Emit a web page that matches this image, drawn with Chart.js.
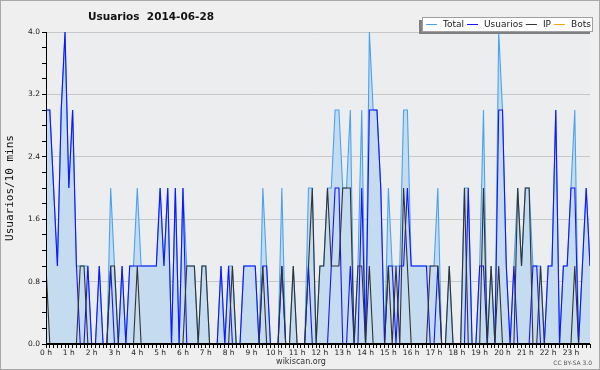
<!DOCTYPE html>
<html lang="es">
<head>
<meta charset="utf-8">
<title>Usuarios 2014-06-28</title>
<script src="https://cdn.jsdelivr.net/npm/chart.js@4.4.1/dist/chart.umd.min.js"></script>
<style>
    body { margin: 0; background: #efefef; }
    #chart { display: block; }
</style>
</head>
<body>
<canvas id="chart" width="600" height="370"></canvas>
<script>
// one value every 10 minutes, from 0 h to 23 h 50
const hours = ['0 h', '1 h', '2 h', '3 h', '4 h', '5 h', '6 h', '7 h', '8 h', '9 h', '10 h', '11 h',
    '12 h', '13 h', '14 h', '15 h', '16 h', '17 h', '18 h', '19 h', '20 h', '21 h', '22 h', '23 h'];

const total = [
    3, 3, 2, 1, 3, 4, 2, 3, 1, 1,
    1, 1, 0, 0, 1, 0, 0, 2, 1, 0,
    1, 0, 1, 1, 2, 1, 1, 1, 1, 1,
    2, 1, 2, 0, 2, 0, 2, 1, 1, 1,
    0, 1, 1, 0, 0, 0, 1, 0, 1, 1,
    0, 0, 1, 1, 1, 1, 0, 2, 1, 0,
    0, 0, 2, 0, 0, 1, 0, 0, 0, 2,
    2, 0, 1, 1, 2, 2, 3, 3, 2, 2,
    3, 0, 1, 3, 0, 4, 3, 3, 2, 0,
    2, 1, 1, 1, 3, 3, 1, 1, 1, 1,
    1, 1, 1, 2, 0, 0, 1, 0, 0, 0,
    2, 2, 0, 0, 1, 3, 0, 1, 0, 4,
    3, 1, 0, 1, 2, 1, 2, 2, 1, 1,
    1, 0, 1, 1, 3, 0, 1, 1, 2, 3,
    0, 1, 2, 1
];

const usuarios = [
    3, 3, 2, 1, 3, 4, 2, 3, 1, 0,
    0, 1, 0, 0, 1, 0, 0, 1, 0, 0,
    1, 0, 1, 1, 1, 1, 1, 1, 1, 1,
    2, 1, 2, 0, 2, 0, 2, 0, 0, 0,
    0, 0, 0, 0, 0, 0, 1, 0, 1, 0,
    0, 0, 1, 1, 1, 1, 0, 1, 1, 0,
    0, 0, 1, 0, 0, 0, 0, 0, 0, 1,
    0, 0, 0, 0, 0, 1, 2, 2, 0, 0,
    1, 0, 0, 2, 0, 3, 3, 3, 2, 0,
    1, 1, 0, 1, 1, 2, 1, 1, 1, 1,
    1, 0, 0, 1, 0, 0, 0, 0, 0, 0,
    0, 2, 0, 0, 1, 1, 0, 0, 0, 3,
    3, 1, 0, 1, 0, 0, 0, 0, 1, 1,
    0, 0, 1, 1, 3, 0, 1, 1, 2, 2,
    0, 1, 2, 1
];

const ip = [
    1, 0, 0, 0, 0, 0, 0, 0, 0, 1,
    1, 0, 0, 0, 0, 0, 0, 1, 1, 0,
    0, 0, 0, 0, 1, 0, 0, 0, 0, 0,
    0, 0, 0, 0, 0, 0, 0, 1, 1, 1,
    0, 1, 1, 0, 0, 0, 0, 0, 0, 1,
    0, 0, 0, 0, 0, 0, 0, 1, 0, 0,
    0, 0, 1, 0, 0, 1, 0, 0, 0, 1,
    2, 0, 1, 1, 2, 1, 1, 1, 2, 2,
    2, 0, 1, 1, 0, 1, 0, 0, 0, 0,
    1, 0, 1, 0, 2, 1, 0, 0, 0, 0,
    0, 1, 1, 1, 0, 0, 1, 0, 0, 0,
    2, 0, 0, 0, 0, 2, 0, 1, 0, 1,
    0, 0, 0, 0, 2, 1, 2, 2, 0, 0,
    1, 0, 0, 0, 0, 0, 0, 0, 0, 1,
    0, 0, 0, 0
];

const bots = [
    0, 0, 0, 0, 0, 0, 0, 0, 0, 0,
    0, 0, 0, 0, 0, 0, 0, 0, 0, 0,
    0, 0, 0, 0, 0, 0, 0, 0, 0, 0,
    0, 0, 0, 0, 0, 0, 0, 0, 0, 0,
    0, 0, 0, 0, 0, 0, 0, 0, 0, 0,
    0, 0, 0, 0, 0, 0, 0, 0, 0, 0,
    0, 0, 0, 0, 0, 0, 0, 0, 0, 0,
    0, 0, 0, 0, 0, 0, 0, 0, 0, 0,
    0, 0, 0, 0, 0, 0, 0, 0, 0, 0,
    0, 0, 0, 0, 0, 0, 0, 0, 0, 0,
    0, 0, 0, 0, 0, 0, 0, 0, 0, 0,
    0, 0, 0, 0, 0, 0, 0, 0, 0, 0,
    0, 0, 0, 0, 0, 0, 0, 0, 0, 0,
    0, 0, 0, 0, 0, 0, 0, 0, 0, 0,
    0, 0, 0, 0
];

const seriesNames = ['Total', 'Usuarios', 'IP', 'Bots'];
const seriesColors = ['#4aa3f0', '#1414ff', '#333333', '#ffa500'];
const fillColor = '#c5dbef';

function toPoints(values) {
    return values.map((v, i) => ({ x: i, y: v }));
}

function isMajor(v) {
    return Math.round(v * 5) % 4 === 0;
}

// title, legend box, footer and frame, all painted on the canvas
const decorations = {
    id: 'decorations',
    beforeDraw(chart) {
        const { ctx, chartArea: a } = chart;
        ctx.save();
        ctx.fillStyle = '#efefef';
        ctx.fillRect(0, 0, chart.width, chart.height);
        ctx.fillStyle = '#ecedef';
        ctx.fillRect(a.left, a.top, a.right - a.left, a.bottom - a.top);
        ctx.restore();
    },
    afterDatasetsDraw(chart) {
        const { ctx, chartArea: a } = chart;
        ctx.save();
        ctx.strokeStyle = '#000';
        ctx.lineWidth = 2;
        ctx.beginPath();
        ctx.moveTo(a.left, a.bottom);
        ctx.lineTo(a.right, a.bottom);
        ctx.stroke();
        ctx.lineWidth = 1;
        ctx.beginPath();
        ctx.moveTo(a.left + 0.5, a.top);
        ctx.lineTo(a.left + 0.5, a.bottom);
        ctx.stroke();
        ctx.restore();
    },
    afterDraw(chart) {
        const ctx = chart.ctx;
        ctx.save();

        ctx.strokeStyle = '#a8a8a8';
        ctx.lineWidth = 1;
        ctx.strokeRect(0.5, 0.5, chart.width - 1, chart.height - 1);

        ctx.fillStyle = '#111';
        ctx.font = 'bold 10.5px "DejaVu Sans"';
        ctx.textAlign = 'center';
        ctx.textBaseline = 'middle';
        ctx.fillText('Usuarios  2014-06-28', 151, 17);

        // legend with its shadow
        ctx.fillStyle = '#808080';
        ctx.fillRect(419, 20, 171, 14);
        ctx.fillStyle = '#fff';
        ctx.fillRect(422, 17, 171, 15);
        ctx.strokeStyle = '#a0a0a0';
        ctx.strokeRect(422.5, 17.5, 170, 14);

        ctx.font = '9px "DejaVu Sans"';
        ctx.textAlign = 'left';
        let x = 426;
        seriesNames.forEach((name, i) => {
            ctx.strokeStyle = seriesColors[i];
            ctx.lineWidth = 1;
            ctx.beginPath();
            ctx.moveTo(x, 24.5);
            ctx.lineTo(x + 11, 24.5);
            ctx.stroke();
            ctx.fillStyle = '#222';
            ctx.fillText(name, x + 17, 25);
            x += 17 + ctx.measureText(name).width + 3;
        });

        ctx.fillStyle = '#333';
        ctx.font = '8px "DejaVu Sans"';
        ctx.textAlign = 'center';
        ctx.fillText('wikiscan.org', 301, 362);
        ctx.fillStyle = '#555';
        ctx.font = '6px "DejaVu Sans"';
        ctx.textAlign = 'right';
        ctx.fillText('CC BY-SA 3.0', 592, 363);

        ctx.restore();
    }
};

new Chart(document.getElementById('chart'), {
    type: 'line',
    data: {
        datasets: [{
            label: seriesNames[0],
            data: toPoints(total),
            borderColor: seriesColors[0],
            backgroundColor: fillColor,
            fill: 'origin',
            order: 3
        }, {
            label: seriesNames[1],
            data: toPoints(usuarios),
            borderColor: seriesColors[1],
            fill: false,
            order: 2
        }, {
            label: seriesNames[2],
            data: toPoints(ip),
            borderColor: seriesColors[2],
            fill: false,
            order: 1
        }, {
            label: seriesNames[3],
            data: toPoints(bots),
            borderColor: seriesColors[3],
            fill: false,
            order: 4
        }]
    },
    options: {
        responsive: false,
        animation: false,
        devicePixelRatio: 1,
        layout: { padding: { top: 32, right: 10, bottom: 0, left: 0 } },
        elements: {
            point: { radius: 0 },
            line: { borderWidth: 1.1, tension: 0 }
        },
        plugins: {
            legend: { display: false },
            tooltip: { enabled: false }
        },
        scales: {
            x: {
                type: 'linear',
                min: 0,
                max: 143,
                afterFit: scale => { scale.height = 26; },
                border: { color: '#000' },
                grid: { drawOnChartArea: false, tickLength: 4, tickColor: '#000' },
                ticks: {
                    stepSize: 1,
                    maxTicksLimit: 1000,
                    autoSkip: false,
                    maxRotation: 0,
                    padding: 1,
                    color: '#222',
                    font: { family: 'DejaVu Sans', size: 7.5 },
                    callback: v => (v % 6 === 0 ? hours[v / 6] : '')
                }
            },
            y: {
                min: 0,
                max: 4,
                afterFit: scale => { scale.width = 46; },
                border: { color: '#000' },
                grid: {
                    color: ctx => (isMajor(ctx.tick.value) ? '#c8c8c8' : 'rgba(0,0,0,0)'),
                    tickColor: '#000',
                    tickLength: 4
                },
                ticks: {
                    stepSize: 0.2,
                    padding: 2,
                    color: '#222',
                    font: { family: 'DejaVu Sans', size: 7.5 },
                    callback: v => (isMajor(v) ? v.toFixed(1) : '')
                },
                title: {
                    display: true,
                    text: 'Usuarios/10 mins',
                    color: '#111',
                    font: { family: 'DejaVu Sans Mono', size: 11 },
                    padding: { top: 4, bottom: 0 }
                }
            }
        }
    },
    plugins: [decorations]
});
</script>
</body>
</html>
